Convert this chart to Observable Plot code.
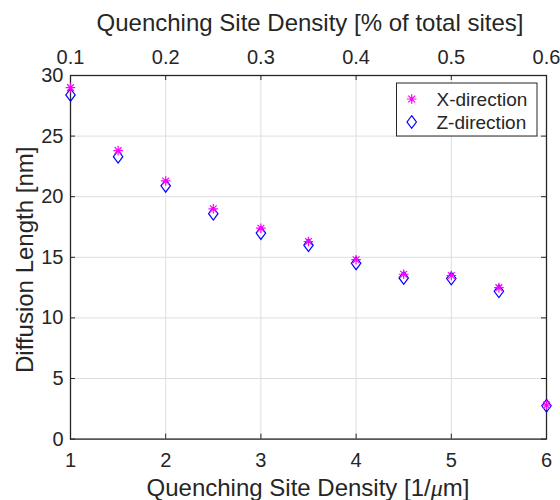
<!DOCTYPE html>
<html>
<head>
<meta charset="utf-8">
<script src="https://cdn.jsdelivr.net/npm/d3@7"></script>
<script src="https://cdn.jsdelivr.net/npm/@observablehq/plot@0.6"></script>
<style>
  html, body { margin: 0; padding: 0; background: white; }
  #chart { width: 560px; height: 500px; }
</style>
</head>
<body>
<div id="chart"></div>
<script>
// ---- data ----
const density = [1, 1.5, 2, 2.5, 3, 3.5, 4, 4.5, 5, 5.5, 6];
const xDirection = [29.0, 23.8, 21.3, 19.0, 17.4, 16.3, 14.8, 13.6, 13.5, 12.5, 2.8];
const zDirection = [28.4, 23.3, 20.9, 18.6, 17.0, 16.0, 14.5, 13.3, 13.25, 12.2, 2.75];
const xTicks = [1, 2, 3, 4, 5, 6];
const topTickLabels = ["0.1", "0.2", "0.3", "0.4", "0.5", "0.6"];
const yTicks = [0, 5, 10, 15, 20, 25, 30];
const seriesNames = ["X-direction", "Z-direction"];

// ---- layout ----
const W = 560, H = 500;
const mL = 70, mR = 14, mT = 75, mB = 61.4;
const frameW = W - mL - mR, frameH = H - mT - mB;
const ink = "#262626";
const gridColor = "#dedede";
const font = "'Liberation Sans', Arial, Helvetica, sans-serif";

// MATLAB-like marker shapes
const asterisk = {
  draw(ctx, size) {
    const r = Math.sqrt(size / Math.PI);
    for (let k = 0; k < 4; k++) {
      const a = k * Math.PI / 4;
      ctx.moveTo(r * Math.cos(a), r * Math.sin(a));
      ctx.lineTo(-r * Math.cos(a), -r * Math.sin(a));
    }
  }
};
const diamond = {
  draw(ctx, size) {
    const r = Math.sqrt(size / Math.PI);
    const h = r * 1.35;
    ctx.moveTo(0, -h);
    ctx.lineTo(r, 0);
    ctx.lineTo(0, h);
    ctx.lineTo(-r, 0);
    ctx.closePath();
  }
};

const tickLen = 5;
const chart = Plot.plot({
  width: W, height: H,
  marginLeft: mL, marginRight: mR, marginTop: mT, marginBottom: mB,
  style: { fontFamily: font, fontSize: "20px", color: ink, background: "white" },
  x: { domain: [1, 6] },
  y: { domain: [0, 30] },
  marks: [
    Plot.gridX(xTicks, { stroke: gridColor, strokeOpacity: 1 }),
    Plot.gridY(yTicks, { stroke: gridColor, strokeOpacity: 1 }),
    Plot.axisX(xTicks, { anchor: "bottom", tickSize: 0, tickPadding: 14, label: null, fontSize: 20, fill: ink }),
    Plot.axisX(xTicks, { anchor: "top", tickSize: 0, tickPadding: 12, label: null, fontSize: 20, fill: ink,
      tickFormat: d => topTickLabels[xTicks.indexOf(d)] }),
    Plot.axisY(yTicks, { anchor: "left", tickSize: 0, tickPadding: 7, label: null, fontSize: 20, fill: ink }),
    // inward tick marks
    Plot.tickX(xTicks, { x: d => d, insetTop: frameH - tickLen, stroke: ink, strokeWidth: 1 }),
    Plot.tickX(xTicks, { x: d => d, insetBottom: frameH - tickLen, stroke: ink, strokeWidth: 1 }),
    Plot.tickY(yTicks, { y: d => d, insetRight: frameW - tickLen, stroke: ink, strokeWidth: 1 }),
    Plot.tickY(yTicks, { y: d => d, insetLeft: frameW - tickLen, stroke: ink, strokeWidth: 1 }),
    Plot.frame({ stroke: ink, strokeWidth: 1.3 }),
    Plot.dot(density, { x: density, y: zDirection, symbol: diamond, r: 4.7, stroke: "#0000ff", strokeWidth: 1.2 }),
    Plot.dot(density, { x: density, y: xDirection, symbol: asterisk, r: 4.8, stroke: "#ff00ff", strokeWidth: 1.2 })
  ]
});

document.getElementById("chart").appendChild(chart);

// ---- axis labels & legend ----
const svg = d3.select(chart);
svg.append("text")
  .attr("x", mL + frameW / 2 + 2).attr("y", 31)
  .attr("text-anchor", "middle").attr("font-family", font).attr("font-size", 24).attr("fill", ink)
  .text("Quenching Site Density [% of total sites]");

const bl = svg.append("text")
  .attr("x", mL + frameW / 2).attr("y", 496)
  .attr("text-anchor", "middle").attr("font-family", font).attr("font-size", 24).attr("fill", ink);
bl.append("tspan").text("Quenching Site Density [1/");
bl.append("tspan").attr("font-style", "italic").attr("font-family", "'Liberation Serif', 'Times New Roman', serif").text("μ");
bl.append("tspan").text("m]");

svg.append("text")
  .attr("transform", `translate(33, ${mT + frameH / 2 + 3}) rotate(-90)`)
  .attr("text-anchor", "middle").attr("font-family", font).attr("font-size", 24).attr("fill", ink)
  .text("Diffusion Length [nm]");

const lg = svg.append("g");
lg.append("rect").attr("x", 396.5).attr("y", 83).attr("width", 140.5).attr("height", 53)
  .attr("fill", "white").attr("stroke", ink).attr("stroke-width", 1);
const legendItems = [
  { name: seriesNames[0], shape: asterisk, color: "#ff00ff", r: 4.8, y: 99 },
  { name: seriesNames[1], shape: diamond, color: "#0000ff", r: 4.7, y: 122 }
];
legendItems.forEach(it => {
  lg.append("path")
    .attr("transform", `translate(411.7, ${it.y})`)
    .attr("d", d3.symbol(it.shape, it.r * it.r * Math.PI)())
    .attr("fill", "none").attr("stroke", it.color).attr("stroke-width", 1.2);
  lg.append("text")
    .attr("x", 436.5).attr("y", it.y + 7)
    .attr("text-anchor", "start")
    .attr("font-family", font).attr("font-size", 19).attr("fill", ink)
    .text(it.name);
});
</script>
</body>
</html>
